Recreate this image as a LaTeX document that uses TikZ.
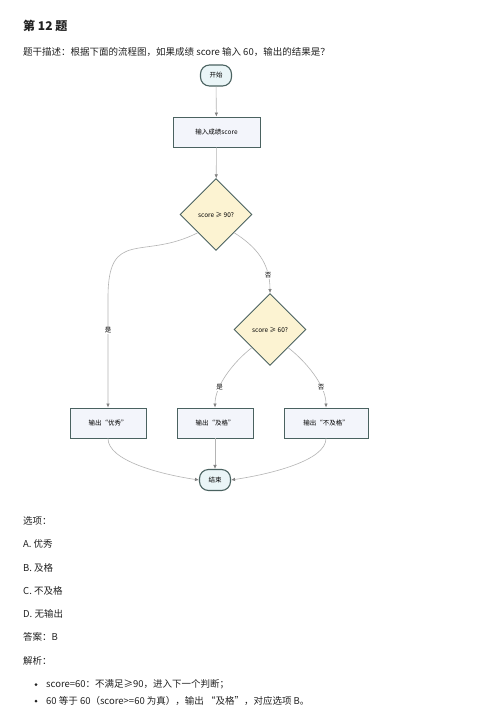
\documentclass[tikz,border=0pt]{standalone}
\usepackage{fontspec}
\setmainfont{Noto Sans CJK SC}
\usetikzlibrary{shapes.geometric,arrows.meta}
\definecolor{edgegray}{HTML}{4A6260}
\definecolor{linegray}{HTML}{B4B4B4}
\definecolor{boxfill}{HTML}{F3F5FB}
\definecolor{termfill}{HTML}{EAF5F7}
\definecolor{askfill}{HTML}{FCF3D2}
\definecolor{bodytext}{HTML}{222222}
\tikzset{
	terminal/.style={draw=edgegray, line width=1.1pt, fill=termfill, rounded corners=9pt, minimum width=31pt, minimum height=21pt, inner sep=0pt, font=\fontsize{6.5}{7}\selectfont},
	procbox/.style={draw=edgegray, line width=0.9pt, fill=boxfill, minimum height=30pt, inner sep=0pt, font=\fontsize{6.5}{7}\selectfont},
	askbox/.style={draw=edgegray, line width=0.9pt, fill=askfill, shape=diamond, minimum width=72pt, minimum height=72pt, inner sep=0pt, font=\fontsize{6.5}{7}\selectfont},
	flow/.style={draw=linegray, line width=0.6pt, -{Latex[length=4pt,width=3.5pt,color=gray]}},
	branch/.style={fill=white, inner sep=1pt, font=\fontsize{6.5}{7}\selectfont},
	line/.style={anchor=base west, inner sep=0pt, text=bodytext, font=\fontsize{9.5}{11}\selectfont},
	dot/.style={circle, fill=bodytext, minimum size=3pt, inner sep=0pt}
}
\begin{document}
\begin{tikzpicture}[x=1pt, y=-1pt]
	\useasboundingbox[fill=white] (0,0) rectangle (477,726);
	\node[line, font=\bfseries\fontsize{12}{14}\selectfont] (title) at (23,30) {第 12 题};
	\node[line] (stem) at (23,55) {题干描述：根据下面的流程图，如果成绩 score 输入 60，输出的结果是？};
	\node[terminal] (start) at (216,75.5) {开始};
	\node[procbox, minimum width=87pt] (input) at (216.5,132) {输入成绩score};
	\node[askbox] (ask90) at (216,214.5) {score ≥ 90?};
	\node[askbox] (ask60) at (270,329.5) {score ≥ 60?};
	\node[procbox, minimum width=76pt] (good) at (108,423) {输出“优秀”};
	\node[procbox, minimum width=76pt] (pass) at (215,423) {输出“及格”};
	\node[procbox, minimum width=84pt] (fail) at (326,423) {输出“不及格”};
	\node[terminal] (stop) at (215,480) {结束};
	\draw[flow] (start) -- (input);
	\draw[flow] (input) -- (ask90);
	\draw[flow] (ask90.south west) .. controls +(-55,28) and +(0,-70) .. ([yshift=110pt]good.north) -- (good.north) node[branch, pos=0.3] {是};
	\draw[flow] (ask90.south east) .. controls +(22,14) and +(0,-30) .. (ask60.north) node[branch, pos=0.78] {否};
	\draw[flow] (ask60.south west) .. controls +(-18,14) and +(0,-22) .. (pass.north) node[branch, pos=0.7] {是};
	\draw[flow] (ask60.south east) .. controls +(18,14) and +(0,-22) .. (fail.north) node[branch, pos=0.7] {否};
	\draw[flow] (good.south) .. controls +(0,22) and +(-40,-6) .. (stop.west);
	\draw[flow] (pass) -- (stop);
	\draw[flow] (fail.south) .. controls +(0,22) and +(40,-6) .. (stop.east);
	\node[line] (opts) at (23,524) {选项：};
	\node[line] (optA) at (23,547.5) {A. 优秀};
	\node[line] (optB) at (23,571) {B. 及格};
	\node[line] (optC) at (23,594.5) {C. 不及格};
	\node[line] (optD) at (23,617.5) {D. 无输出};
	\node[line] (answer) at (23,640.5) {答案：B};
	\node[line] (expl) at (23,664) {解析：};
	\node[dot] (dot1) at (36,684.5) {};
	\node[line] (note1) at (46,687.5) {score=60：不满足≥90，进入下一个判断；};
	\node[dot] (dot2) at (36,701) {};
	\node[line] (note2) at (46,704) {60 等于 60（score>=60 为真），输出 “及格”，对应选项 B。};
\end{tikzpicture}
\end{document}
